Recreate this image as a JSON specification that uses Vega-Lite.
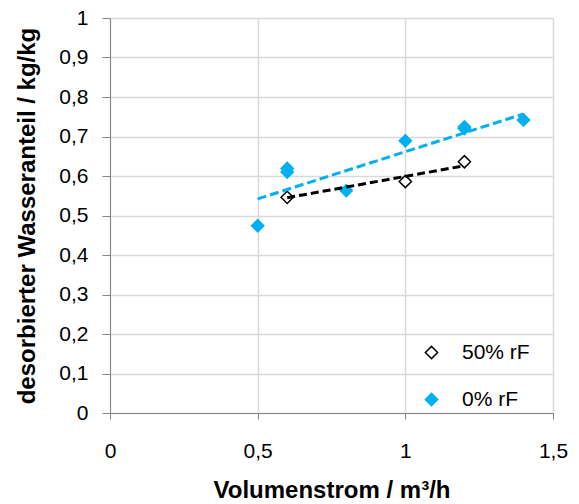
{
  "$schema": "https://vega.github.io/schema/vega-lite/v6.json",
  "width": 443,
  "height": 395,
  "autosize": "none",
  "padding": {"left": 110, "top": 18, "right": 26, "bottom": 91},
  "background": "white",
  "config": {
    "view": {"stroke": null},
    "font": "Liberation Sans",
    "axis": {
      "domainColor": "#868686",
      "tickColor": "#868686",
      "gridColor": "#d9d9d9",
      "gridWidth": 1.5,
      "labelFontSize": 21,
      "labelColor": "#000000",
      "labelOverlap": false,
      "labelFlush": false,
      "labelBound": false,
      "titleFontSize": 24,
      "titleFontWeight": "bold",
      "titleColor": "#000000",
      "labelFont": "Liberation Sans",
      "titleFont": "Liberation Sans"
    }
  },
  "datasets": {
    "messwerte": [
      {"volumenstrom": 0.6, "anteil": 0.546, "serie": "50% rF"},
      {"volumenstrom": 1.0, "anteil": 0.586, "serie": "50% rF"},
      {"volumenstrom": 1.2, "anteil": 0.636, "serie": "50% rF"},
      {"volumenstrom": 0.5, "anteil": 0.474, "serie": "0% rF"},
      {"volumenstrom": 0.6, "anteil": 0.619, "serie": "0% rF"},
      {"volumenstrom": 0.6, "anteil": 0.610, "serie": "0% rF"},
      {"volumenstrom": 0.8, "anteil": 0.563, "serie": "0% rF"},
      {"volumenstrom": 1.0, "anteil": 0.689, "serie": "0% rF"},
      {"volumenstrom": 1.2, "anteil": 0.720, "serie": "0% rF"},
      {"volumenstrom": 1.2, "anteil": 0.724, "serie": "0% rF"},
      {"volumenstrom": 1.4, "anteil": 0.742, "serie": "0% rF"}
    ],
    "trend": [
      {"volumenstrom": 0.5, "anteil": 0.542, "serie": "0% rF"},
      {"volumenstrom": 1.4, "anteil": 0.757, "serie": "0% rF"},
      {"volumenstrom": 0.6, "anteil": 0.545, "serie": "50% rF"},
      {"volumenstrom": 1.2, "anteil": 0.626, "serie": "50% rF"}
    ]
  },
  "encoding": {
    "x": {
      "field": "volumenstrom",
      "type": "quantitative",
      "scale": {"domain": [0, 1.5], "nice": false, "zero": true},
      "axis": {
        "values": [0, 0.5, 1, 1.5],
        "tickCount": 20,
        "format": "~g",
        "labelExpr": "replace(datum.label, '.', ',')",
        "title": "Volumenstrom / m³/h",
        "tickSize": 6,
        "labelPadding": 21,
        "titleY": 77,
        "titleBaseline": "middle"
      }
    },
    "y": {
      "field": "anteil",
      "type": "quantitative",
      "scale": {"domain": [0, 1], "nice": false, "zero": true},
      "axis": {
        "values": [0, 0.1, 0.2, 0.3, 0.4, 0.5, 0.6, 0.7, 0.8, 0.9, 1],
        "tickCount": 20,
        "format": "~g",
        "labelExpr": "replace(datum.label, '.', ',')",
        "title": "desorbierter Wasseranteil / kg/kg",
        "tickSize": 8,
        "labelPadding": 14,
        "titleX": -83,
        "titleY": 197.5,
        "titleBaseline": "middle"
      }
    }
  },
  "layer": [
    {
      "data": {"name": "messwerte"},
      "mark": {"type": "point", "shape": "diamond", "size": 150, "strokeWidth": 1.5, "opacity": 1},
      "encoding": {
        "fill": {
          "field": "serie",
          "type": "nominal",
          "scale": {"domain": ["50% rF", "0% rF"], "range": ["#ffffff", "#00b0f0"]},
          "legend": {
            "title": null,
            "orient": "none",
            "legendX": 311,
            "legendY": 324,
            "padding": 0,
            "symbolSize": 150,
            "symbolStrokeWidth": 1.5,
            "labelFontSize": 21,
            "labelFont": "Liberation Sans",
            "labelColor": "#000000",
            "labelOffset": 20,
            "rowPadding": 25
          }
        },
        "stroke": {
          "field": "serie",
          "type": "nominal",
          "scale": {"domain": ["50% rF", "0% rF"], "range": ["#000000", "#00b0f0"]},
          "legend": {"title": null}
        }
      }
    },
    {
      "data": {"name": "trend"},
      "transform": [{"filter": "datum.serie === '0% rF'"}],
      "mark": {"type": "line", "color": "#00b0f0", "strokeWidth": 3, "strokeDash": [9, 4]},
      "encoding": {}
    },
    {
      "data": {"name": "trend"},
      "transform": [{"filter": "datum.serie === '50% rF'"}],
      "mark": {"type": "line", "color": "#000000", "strokeWidth": 3, "strokeDash": [8, 4]},
      "encoding": {}
    }
  ]
}
